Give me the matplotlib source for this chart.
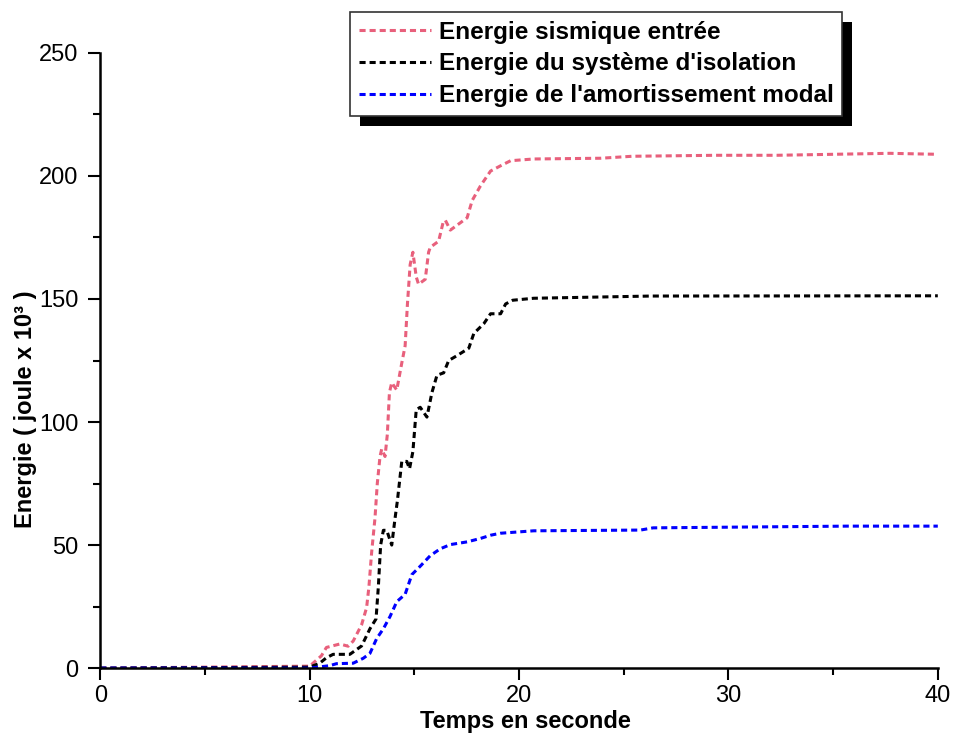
import matplotlib.pyplot as plt
from matplotlib.patches import Rectangle

# Energie sismique entrée
temps_entree = [0, 10.0, 10.56, 10.8, 11.44, 11.84, 12.08, 12.48, 12.72, 12.83, 12.96,
                13.12, 13.23, 13.36, 13.44, 13.6, 13.71, 13.81, 13.92, 14.16, 14.4,
                14.56, 14.67, 14.8, 14.93, 15.09, 15.2, 15.52, 15.68, 15.76, 16.16,
                16.37, 16.48, 16.72, 17.04, 17.52, 17.76, 18.16, 18.64, 19.2, 19.6,
                20.7, 23.9, 25.4, 29.4, 32.3, 37.7, 40]
energie_entree = [0, 0.8, 5, 8.4, 9.8, 8.9, 11, 17.6, 24.6, 33, 47,
                  61, 75, 86, 89, 86, 95, 112, 116, 113, 124,
                  131, 148, 164, 169, 159, 156, 158, 169, 171, 173.5,
                  181, 182, 178, 180, 183, 190, 196, 202, 204.5, 206.2,
                  206.9, 207.2, 208, 208.4, 208.4, 209.2, 208.8]

# Energie du système d'isolation
temps_isolation = [0, 10.0, 10.48, 10.8, 11.12, 11.92, 12.48, 12.88, 13.17, 13.28, 13.39,
                   13.52, 13.68, 13.92, 14.08, 14.19, 14.4, 14.64, 14.77, 14.93, 15.09,
                   15.28, 15.6, 15.84, 16.08, 16.4, 16.64, 17.04, 17.6, 17.84, 18.32,
                   18.64, 19.12, 19.36, 19.7, 20.7, 26.3, 40]
energie_isolation = [0, 0.4, 2, 4.2, 5.6, 5.6, 9, 16, 20, 33, 50,
                     56, 56, 50, 61, 68, 84, 84, 81, 88, 105,
                     106, 102, 112, 119, 120, 125, 127, 130, 136, 140,
                     144, 144, 148, 149.5, 150.3, 151.2, 151.3]

# Energie de l'amortissement modal
temps_amort = [0, 10.0, 10.96, 11.28, 12.08, 12.56, 12.88, 13.2, 13.52, 13.84, 14.16,
               14.56, 14.88, 15.28, 15.76, 16.24, 16.72, 17.52, 18.16, 18.64, 19.1,
               20.7, 25.8, 26.4, 35.7, 40]
energie_amort = [0, 0, 1, 1.8, 2, 4, 6, 12, 16, 21, 27,
                 30, 38, 41.4, 45.7, 48.5, 50.2, 51.3, 52.7, 54, 54.8,
                 55.8, 56.1, 57, 57.7, 57.7]

courbes = [
    (temps_entree, energie_entree, "#e8607c", "Energie sismique entrée"),
    (temps_isolation, energie_isolation, "black", "Energie du système d'isolation"),
    (temps_amort, energie_amort, "#0000ff", "Energie de l'amortissement modal"),
]

plt.rcParams["font.family"] = ["Liberation Sans", "DejaVu Sans"]

fig = plt.figure(figsize=(9.55, 7.35), dpi=100)
ax = fig.add_axes([0.105, 0.091, 0.877, 0.837])

for temps, energie, couleur, nom in courbes:
    ax.plot(temps, energie, color=couleur, lw=2.2, linestyle=(0, (2.0, 1.3)), label=nom)

ax.set_xlim(0, 40)
ax.set_ylim(0, 250)
ax.set_xticks([0, 10, 20, 30, 40])
ax.set_xticks([5, 15, 25, 35], minor=True)
ax.set_yticks([0, 50, 100, 150, 200, 250])
ax.set_yticks([25, 75, 125, 175, 225], minor=True)

for cote in ["top", "right"]:
    ax.spines[cote].set_visible(False)
for cote in ["left", "bottom"]:
    ax.spines[cote].set_linewidth(1.8)

ax.tick_params(which="major", direction="out", length=8.5, width=1.5, labelsize=17)
ax.tick_params(axis="y", which="major", pad=7)
ax.tick_params(which="minor", direction="out", length=5, width=1.5)

ax.set_xlabel("Temps en seconde", fontsize=17, fontweight="bold")
ax.xaxis.set_label_coords(0.508, -0.068)
ax.set_ylabel("Energie ( joule x 10³ )", fontsize=17, fontweight="bold")
ax.yaxis.set_label_coords(-0.076, 0.42)

leg = ax.legend(loc="upper left", bbox_to_anchor=(350 / 955, 1 - 12 / 735),
                bbox_transform=fig.transFigure, frameon=True, fancybox=False,
                framealpha=1, prop={"weight": "bold", "size": 17.5}, handlelength=3.0,
                handletextpad=0.3, labelspacing=0.36, borderpad=0.35,
                borderaxespad=0)
leg.get_frame().set_edgecolor("#333333")
leg.get_frame().set_linewidth(1.2)
leg.set_zorder(5)

# ombre noire décalée derrière la légende
fig.canvas.draw()
bb = leg.get_window_extent().transformed(fig.transFigure.inverted())
dx, dy = 10 / 955, 10 / 735
ombre = Rectangle((bb.x0 + dx, bb.y0 - dy), bb.width, bb.height,
                  transform=fig.transFigure, facecolor="black", edgecolor="none",
                  zorder=4, clip_on=False)
ax.add_patch(ombre)

fig.savefig("out.png", dpi=100)
plt.close(fig)
